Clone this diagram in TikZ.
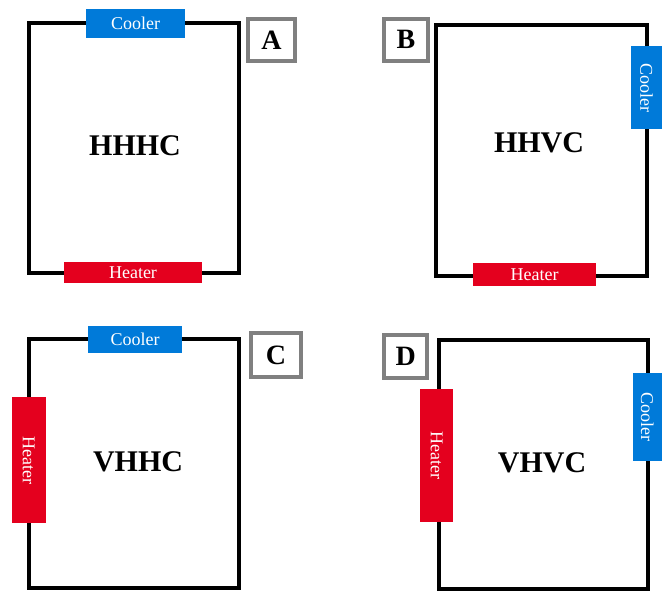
\documentclass[tikz,border=0pt]{standalone}
\usepackage{fontspec}
\setmainfont{Liberation Serif}
\definecolor{coolblue}{RGB}{0,122,217}
\definecolor{heatred}{RGB}{228,0,30}
\definecolor{tagray}{RGB}{128,128,128}
\tikzset{
  frame/.style={draw=black, line width=4pt, inner sep=0pt},
  coolerbox/.style={fill=coolblue, text=white, inner sep=0pt, font=\fontsize{18}{18}\selectfont},
  heaterbox/.style={fill=heatred, text=white, inner sep=0pt, font=\fontsize{18}{18}\selectfont},
  tagbox/.style={draw=tagray, line width=4pt, fill=white, inner sep=0pt, font=\fontsize{28}{28}\selectfont\bfseries},
  title/.style={font=\fontsize{30}{30}\selectfont\bfseries, inner sep=0pt}
}
\begin{document}
\begin{tikzpicture}[x=1pt, y=-1pt]
\useasboundingbox (0,0) rectangle (672,592);
% Panel A
\node[frame, minimum width=210pt, minimum height=249.7pt] (fA) at (133.7,148.15) {};
\node[coolerbox, minimum width=99pt, minimum height=28.4pt] (cA) at (135.5,23.5) {Cooler};
\node[heaterbox, minimum width=138pt, minimum height=21pt] (hA) at (133,272.5) {Heater};
\node[tagbox, minimum width=47pt, minimum height=42pt] (tA) at (271.5,39.8) {A};
\node[title] (nA) at (135,146) {HHHC};
% Panel B
\node[frame, minimum width=211pt, minimum height=250.7pt] (fB) at (541.8,150.65) {};
\node[coolerbox, rotate=-90, minimum width=83pt, minimum height=31pt] (cB) at (646.5,87.5) {Cooler};
\node[heaterbox, minimum width=123pt, minimum height=23pt] (hB) at (534.5,274.5) {Heater};
\node[tagbox, minimum width=44pt, minimum height=42pt] (tB) at (406,39.8) {B};
\node[title] (nB) at (539,143) {HHVC};
% Panel C
\node[frame, minimum width=210.3pt, minimum height=248.7pt] (fC) at (133.85,463.65) {};
\node[coolerbox, minimum width=94.6pt, minimum height=27.3pt] (cC) at (135,339.7) {Cooler};
\node[heaterbox, rotate=-90, minimum width=126pt, minimum height=34pt] (hC) at (28.7,460.3) {Heater};
\node[tagbox, minimum width=50pt, minimum height=44.6pt] (tC) at (276,355) {C};
\node[title] (nC) at (138,462) {VHHC};
% Panel D
\node[frame, minimum width=209.3pt, minimum height=249pt] (fD) at (543.35,464.5) {};
\node[heaterbox, rotate=-90, minimum width=132.7pt, minimum height=33pt] (hD) at (436.8,455.7) {Heater};
\node[coolerbox, rotate=-90, minimum width=88pt, minimum height=29.3pt] (cD) at (647.3,416.7) {Cooler};
\node[tagbox, minimum width=43pt, minimum height=42.7pt] (tD) at (405.7,356.7) {D};
\node[title] (nD) at (542,463) {VHVC};
\end{tikzpicture}
\end{document}
